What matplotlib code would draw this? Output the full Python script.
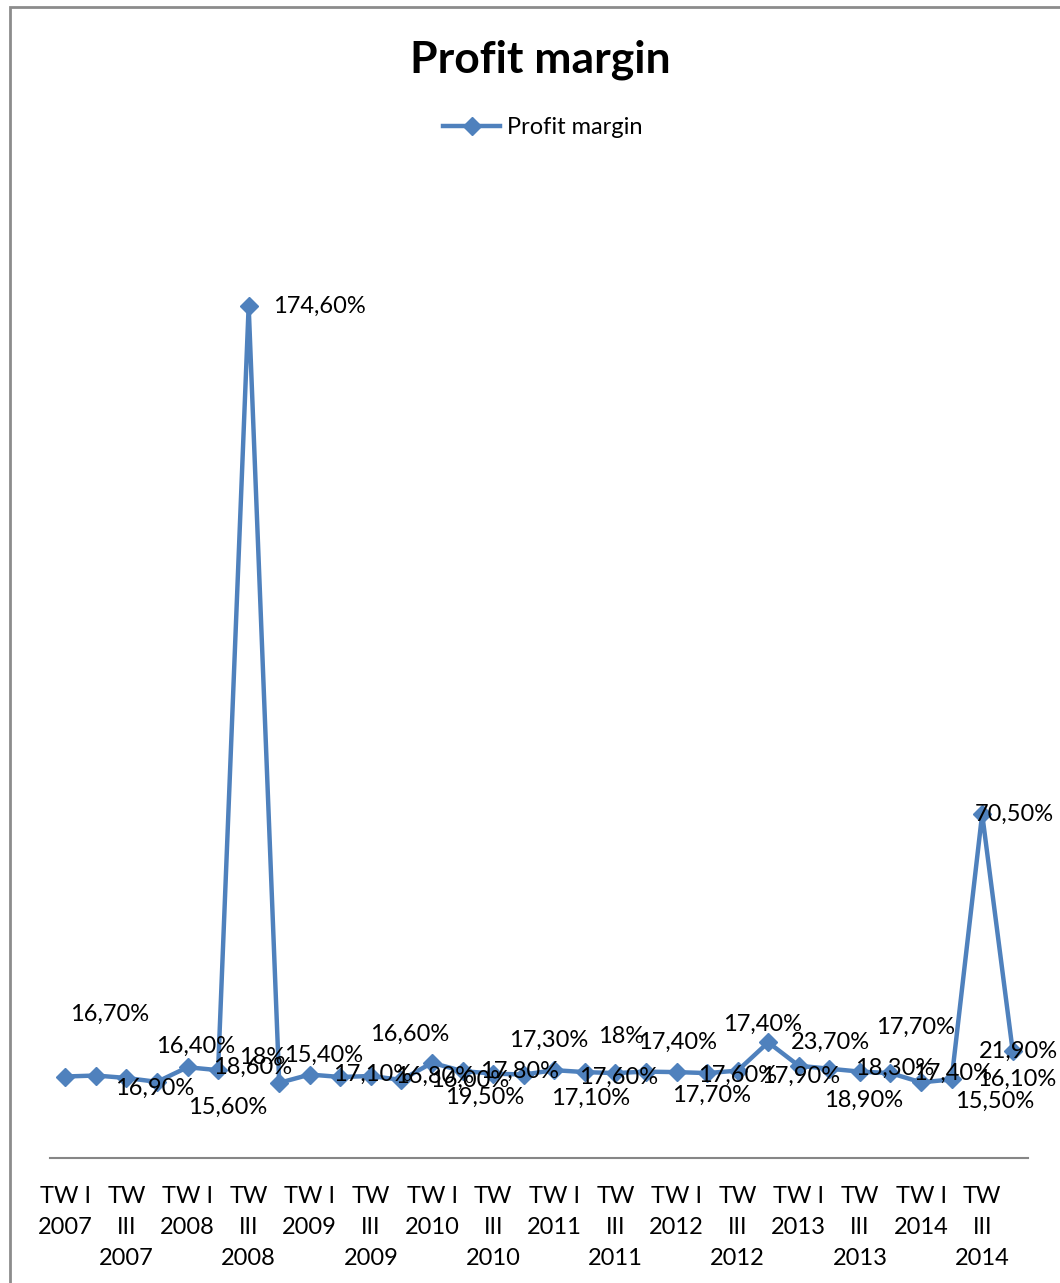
import matplotlib
matplotlib.use("Agg")
import matplotlib.pyplot as plt
from matplotlib.patches import Rectangle

plt.rcParams['font.family'] = ['Lato', 'DejaVu Sans']

# quarterly profit margin, %
years = [2007, 2008, 2009, 2010, 2011, 2012, 2013, 2014]
quarter_names = ["TW I", "TW II", "TW III", "TW IV"]
quarters = [q + " " + str(y) for y in years for q in quarter_names]

margin = [16.7, 16.9, 16.4, 15.6, 18.6, 18.0, 174.6, 15.4,
          17.1, 16.6, 16.8, 16.0, 19.5, 17.8, 17.3, 17.1,
          18.0, 17.6, 17.4, 17.7, 17.6, 17.4, 17.9, 23.7,
          18.9, 18.3, 17.7, 17.4, 15.5, 16.1, 70.5, 21.9]

# points whose label is written without decimals
whole_pct = [5, 16]

# where each value label sits relative to its point (points, y up)
label_off = [(32, 45), (42, -9), (50, 23), (51, -18), (47, 0), (32, 9),
             (51, 0), (32, 20), (45, 0), (50, 31), (46, 0), (49, 0),
             (38, -25), (41, 0), (40, 24), (48, -17), (48, 24), (24, -4),
             (45, 22), (47, -17), (44, -2), (40, 35), (45, -4), (45, 0),
             (47, -25), (47, 0), (40, 32), (45, 0), (53, -14), (47, 0),
             (23, 0), (4, 0)]


def fmt(i, v):
    if i in whole_pct:
        return "%d%%" % round(v)
    return ("%.2f%%" % v).replace(".", ",")


def tick_text(name):
    q, y = name.rsplit(" ", 1)
    if q == "TW I":
        return "TW I\n" + y
    return q.replace(" ", "\n") + "\n" + y


blue = "#4F81BD"

fig = plt.figure(figsize=(10.6, 12.83), dpi=100)
fig.patches.append(Rectangle((10 / 1060, -0.1), 1.2, 1 - 7 / 1283 + 0.1,
                             transform=fig.transFigure, fill=False,
                             edgecolor="#8c8c8c", linewidth=2))

ax = fig.add_axes([50 / 1060, 1 - 1158 / 1283, 978 / 1060, 0.7607])
x = list(range(len(margin)))
ax.plot(x, margin, color=blue, linewidth=3.2, marker="D", markersize=9,
        label="Profit margin")

for i, v in enumerate(margin):
    ax.annotate(fmt(i, v), (i, v), xytext=label_off[i], textcoords="offset points",
                ha="center", va="center", fontsize=17, color="black")

ax.set_xlim(-0.5, len(margin) - 0.5)
ax.set_ylim(0, 200)
ax.set_yticks([])
ax.set_xticks(x[::2])
ax.set_xticklabels([tick_text(q) for q in quarters[::2]], fontsize=17,
                   linespacing=1.6, va="top")
ax.tick_params(axis="x", length=0, pad=20)
for s in ["top", "right", "left"]:
    ax.spines[s].set_visible(False)
ax.spines["bottom"].set_color("#868686")
ax.spines["bottom"].set_linewidth(1.5)

fig.text(540 / 1060, 1 - 60 / 1283, "Profit margin", ha="center", va="center",
         fontsize=32, fontweight="bold")
fig.legend(loc="center", bbox_to_anchor=(543 / 1060, 1 - 128 / 1283),
           frameon=False, fontsize=17, handlelength=2.4, handletextpad=0.3)

fig.savefig("out.png", dpi=100)
